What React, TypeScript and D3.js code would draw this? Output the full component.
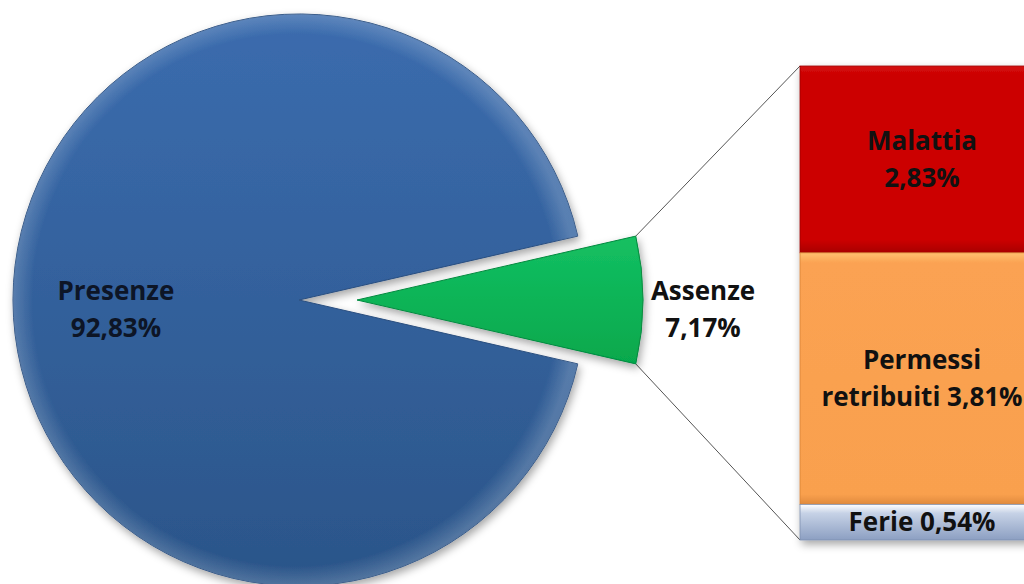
import React from 'react';
import * as d3 from 'd3';

// main pie
const pieLabels = ['Assenze', 'Presenze'];
const pieValues = [7.17, 92.83];
const pieText = ['7,17%', '92,83%'];

// stacked bar breaking down "Assenze"
const barLabels = ['Malattia', 'Permessi', 'Ferie'];
const barValues = [2.83, 3.81, 0.54];
const barText = [['Malattia', '2,83%'], ['Permessi', 'retribuiti 3,81%'], ['Ferie 0,54%']];

const W = 1024;
const H = 584;
const cx = 299;
const cy = 300;
const R = 286;
const explode = 58;

const FONT = '"Open Sans", Lato, sans-serif';
const FS = 26;

const App: React.FC = () => {
  const half = (pieValues[0] / 100) * Math.PI;
  const pie = d3.pie<number>()
    .sort(null)
    .startAngle(Math.PI / 2 - half)
    .endAngle(Math.PI / 2 - half + 2 * Math.PI);
  const arcs = pie(pieValues);
  const arc = d3.arc<d3.PieArcDatum<number>>().innerRadius(0).outerRadius(R);
  const labelArc = d3.arc<d3.PieArcDatum<number>>().innerRadius(R * 0.64).outerRadius(R * 0.64);

  const green = arcs[0];
  const blue = arcs[1];
  const gx = cx + explode;

  // corners of the exploded slice, for connector lines
  const corner = (a: number) => [gx + R * Math.sin(a), cy - R * Math.cos(a)];
  const [tx, ty] = corner(green.startAngle);
  const [bx, by] = corner(green.endAngle);

  const total = d3.sum(barValues);
  const barX = 800;
  const barW = 240;
  const y = d3.scaleLinear().domain([0, total]).range([66, 540]);
  const stacks: { y0: number; y1: number }[] = [];
  let acc = 0;
  barValues.forEach(v => {
    stacks.push({ y0: acc, y1: acc + v });
    acc += v;
  });

  const barFills = ['url(#gRed)', 'url(#gOrange)', 'url(#gFerie)'];
  const barEdge = ['#9c0000', '#d88236', '#7d8fae'];

  return (
    <svg width={W} height={H} style={{ position: 'absolute', left: 0, top: 0, background: '#fff' }}
      fontFamily={FONT} fontWeight="bold">
      <defs>
        <filter id="shadow" x="-10%" y="-10%" width="125%" height="125%">
          <feDropShadow dx="2" dy="4" stdDeviation="4" floodColor="#000" floodOpacity="0.35" />
        </filter>
        <linearGradient id="gBlue" x1="0" y1="0" x2="0" y2="1">
          <stop offset="0" stopColor="#3b6cae" />
          <stop offset="1" stopColor="#2b5589" />
        </linearGradient>
        <radialGradient id="gBevel" cx="0.5" cy="0.5" r="0.5">
          <stop offset="0.93" stopColor="#fff" stopOpacity="0" />
          <stop offset="1" stopColor="#fff" stopOpacity="0.18" />
        </radialGradient>
        <linearGradient id="gGreen" x1="0" y1="0" x2="0" y2="1">
          <stop offset="0" stopColor="#14c062" />
          <stop offset="1" stopColor="#06a84c" />
        </linearGradient>
        <linearGradient id="gRed" x1="0" y1="0" x2="0" y2="1">
          <stop offset="0" stopColor="#d41010" />
          <stop offset="0.05" stopColor="#cc0000" />
          <stop offset="0.93" stopColor="#cc0000" />
          <stop offset="1" stopColor="#a80000" />
        </linearGradient>
        <linearGradient id="gOrange" x1="0" y1="0" x2="0" y2="1">
          <stop offset="0" stopColor="#ffc070" />
          <stop offset="0.04" stopColor="#fba252" />
          <stop offset="0.96" stopColor="#f9a04e" />
          <stop offset="1" stopColor="#e08a3c" />
        </linearGradient>
        <linearGradient id="gFerie" x1="0" y1="0" x2="0" y2="1">
          <stop offset="0" stopColor="#ffffff" />
          <stop offset="0.25" stopColor="#c6d2e6" />
          <stop offset="1" stopColor="#8c9fc2" />
        </linearGradient>
      </defs>

      {/* connector lines */}
      <line x1={tx} y1={ty} x2={barX} y2={y(0)} stroke="#555" strokeWidth={1} />
      <line x1={bx} y1={by} x2={barX} y2={y(total)} stroke="#555" strokeWidth={1} />

      {/* pie */}
      <g transform={`translate(${cx},${cy})`} filter="url(#shadow)">
        <path d={arc(blue) || ''} fill="url(#gBlue)" stroke="#2a4f80" strokeWidth={1} />
        <path d={arc(blue) || ''} fill="url(#gBevel)" />
      </g>
      <g transform={`translate(${gx},${cy})`} filter="url(#shadow)">
        <path d={arc(green) || ''} fill="url(#gGreen)" stroke="#078a40" strokeWidth={1} />
      </g>

      {/* pie labels */}
      {(() => {
        const [lx, ly] = labelArc.centroid(blue);
        return (
          <text x={cx + lx} y={cy + ly} textAnchor="middle" fontSize={FS} fill="#0d1526">
            <tspan x={cx + lx} dy={0}>{pieLabels[1]}</tspan>
            <tspan x={cx + lx} dy={37}>{pieText[1]}</tspan>
          </text>
        );
      })()}
      {(() => {
        const outer = d3.arc<d3.PieArcDatum<number>>().innerRadius(R * 1.21).outerRadius(R * 1.21);
        const [lx, ly] = outer.centroid(green);
        return (
          <text x={gx + lx} y={cy + ly} textAnchor="middle" fontSize={FS} fill="#111">
            <tspan x={gx + lx} dy={0}>{pieLabels[0]}</tspan>
            <tspan x={gx + lx} dy={37}>{pieText[0]}</tspan>
          </text>
        );
      })()}

      {/* stacked bar */}
      <g filter="url(#shadow)">
        {stacks.map((s, i) => (
          <rect key={barLabels[i]} x={barX} y={y(s.y0)} width={barW} height={y(s.y1) - y(s.y0)}
            fill={barFills[i]} stroke={barEdge[i]} strokeWidth={0.8} />
        ))}
      </g>
      {stacks.map((s, i) => {
        const mid = (y(s.y0) + y(s.y1)) / 2;
        const lines = barText[i];
        const lh = 37;
        const start = mid - ((lines.length - 1) * lh) / 2 + 9;
        return (
          <text key={'t' + i} textAnchor="middle" fontSize={FS} fill="#111">
            {lines.map((l, j) => (
              <tspan key={j} x={barX + barW / 2 + 2} y={start + j * lh}>{l}</tspan>
            ))}
          </text>
        );
      })}
    </svg>
  );
};

export default App;
